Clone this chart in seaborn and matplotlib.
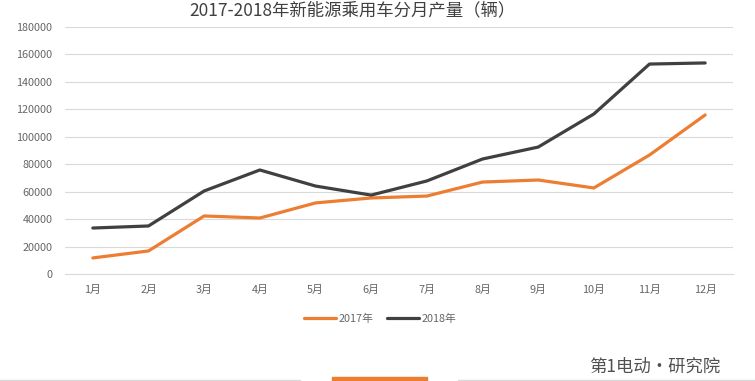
import matplotlib
matplotlib.use("Agg")
import matplotlib.pyplot as plt
import seaborn as sns
import pandas as pd
from matplotlib.lines import Line2D
from matplotlib.patches import Rectangle

months = ["1月", "2月", "3月", "4月", "5月", "6月", "7月", "8月", "9月", "10月", "11月", "12月"]
sales_2017 = [11700, 16800, 42300, 40800, 51800, 55400, 56800, 67000, 68500, 62700, 86700, 115900]
sales_2018 = [33500, 35000, 60500, 75800, 64100, 57500, 67800, 83800, 92500, 116600, 153000, 153800]
series_names = ["2017年", "2018年"]
y_ticks = [0, 20000, 40000, 60000, 80000, 100000, 120000, 140000, 160000, 180000]
title = "2017-2018年新能源乘用车分月产量（辆）"

sns.set_theme(style="white")
plt.rcParams['font.family'] = ['Noto Sans CJK SC', 'DejaVu Sans']

df = pd.DataFrame({
    "月份": months * 2,
    "产量": sales_2017 + sales_2018,
    "年份": [series_names[0]] * 12 + [series_names[1]] * 12,
})
df["x"] = list(range(12)) * 2

W, H = 755, 381
fig = plt.figure(figsize=(W / 100, H / 100), dpi=100)
ax = fig.add_axes([65 / W, (H - 274) / H, (733 - 65) / W, (274 - 27) / H])

sns.lineplot(data=df, x="x", y="产量", hue="年份", palette=["#ED7D31", "#404040"],
             linewidth=2.3, ax=ax, legend=False)

ax.set_xlim(-0.5, 11.5)
ax.set_ylim(0, 180000)
ax.set_yticks(y_ticks)
ax.set_yticklabels([str(v) for v in y_ticks])
ax.set_xticks(range(12))
ax.set_xticklabels(months)
ax.set_xlabel("")
ax.set_ylabel("")
ax.yaxis.grid(True, color="#D9D9D9", linewidth=0.8)
ax.xaxis.grid(False)
for s in ["top", "right", "left"]:
    ax.spines[s].set_visible(False)
ax.spines["bottom"].set_color("#D9D9D9")
ax.spines["bottom"].set_linewidth(0.8)
ax.tick_params(axis="both", length=0, labelsize=7.8, colors="#666666")
ax.tick_params(axis="x", pad=8)
ax.tick_params(axis="y", pad=9)

handles = [Line2D([0], [0], color="#ED7D31", lw=2.3), Line2D([0], [0], color="#404040", lw=2.3)]
fig.legend(handles, series_names, loc="center", bbox_to_anchor=(380 / W, 1 - 319 / H),
           ncol=2, frameon=False, fontsize=7.8, handlelength=3.0, handletextpad=0.2,
           columnspacing=1.2, labelcolor="#666666")

fig.text(352 / W, 1 - 1 / H, title, ha="center", va="top", fontsize=12.5, color="#404040")

# bottom decoration
fig.add_artist(Line2D([0, 300 / W], [1 / H, 1 / H], color="#D9D9D9", lw=1))
fig.add_artist(Line2D([458 / W, 1], [1 / H, 1 / H], color="#D9D9D9", lw=1))
fig.add_artist(Rectangle((332 / W, 0), 95 / W, 4 / H, color="#ED7D31", transform=fig.transFigure))
fig.text(655 / W, 1 - 367 / H, "第1电动·研究院", ha="center", va="center", fontsize=12.5, color="#505050")

fig.savefig("out.png", dpi=100)
